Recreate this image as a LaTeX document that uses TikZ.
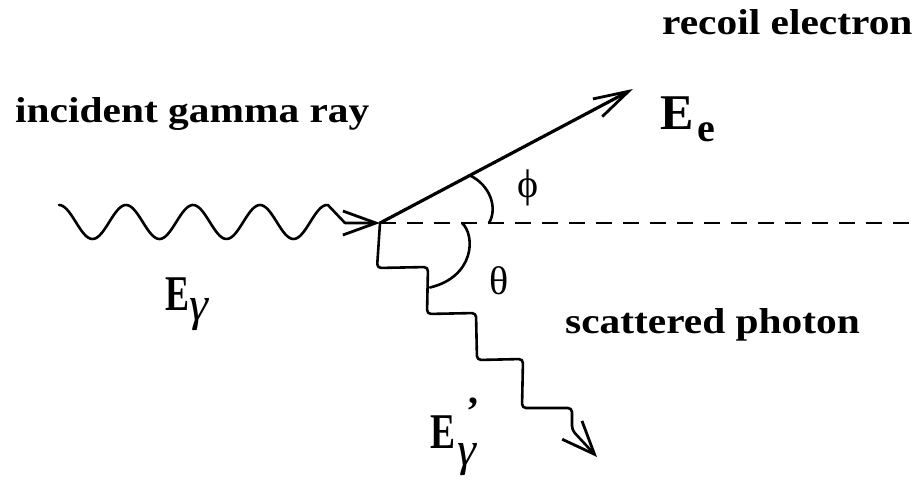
\documentclass[tikz,border=0pt]{standalone}
\usepackage{fontspec}
\usepackage{graphicx}
\usetikzlibrary{arrows.meta}
\newfontfamily\lblfont[FakeStretch=1.15]{Liberation Serif}
\newfontfamily\serfont{Liberation Serif}
\tikzset{
  lbl/.style={inner sep=0pt, anchor=base west, font=\lblfont\bfseries\fontsize{36}{42}\selectfont},
  bigE/.style={inner sep=0pt, anchor=base west, font=\serfont\bfseries\fontsize{50}{60}\selectfont},
  gsub/.style={inner sep=0pt, anchor=base west, font=\serfont\itshape\fontsize{48}{56}\selectfont},
  greek/.style={inner sep=0pt, anchor=center, font=\serfont\fontsize{40}{48}\selectfont},
  wave/.style={line width=2.6pt, line join=round, line cap=round},
  elec/.style={line width=3.2pt, line cap=round},
  angarc/.style={line width=2.6pt, line cap=round},
  axis/.style={line width=1.8pt, dash pattern=on 16pt off 11pt},
}
\begin{document}
\begin{tikzpicture}[x=1pt,y=-1pt]
\useasboundingbox (0,0) rectangle (917,481);
% key points
\coordinate (V) at (380,223);
\coordinate (W1) at (345,223);
\coordinate (Etip) at (633,89);
\coordinate (Dend) at (917,223);
\coordinate (Ptip) at (597,457);
% incident gamma ray (wavy)
\draw[wave, -{Straight Barb[length=33pt,width=24pt,line width=2.8pt]}]
  plot[domain=59:328, samples=140] (\x, {222-17*cos(5.3731*(\x-59))}) -- (W1) -- (V);
% dashed axis
\draw[axis] (V) -- (Dend);
% recoil electron
\draw[elec, -{Straight Barb[length=35pt,width=20pt,line width=2.8pt]}] (V) -- (Etip);
% scattered photon
\draw[wave, rounded corners=4pt, -{Straight Barb[length=33pt,width=27pt,line width=2.8pt]}]
  (V) -- (377,268) -- (428,267) -- (427,314) -- (476,313) -- (477,360) -- (523,359)
  -- (522,408) -- (572,408) -- (572,430) -- (Ptip);
% angle arcs
\coordinate (P1) at (470,175.5);
\coordinate (P2) at (489,223);
\draw[angarc] (P1) .. controls (490,185) and (498,208) .. (P2);
\coordinate (T1) at (462,223);
\coordinate (T2) at (430,287.5);
\draw[angarc] (T1) .. controls (476,236) and (474,277) .. (T2);
% labels
\node[lbl] (inc) at (15,123) {incident gamma ray};
\node[lbl] (rec) at (662,35) {recoil electron};
\node[lbl] (sca) at (565,333) {scattered photon};
\node[bigE] (Ee) at (660,130) {E\kern4pt\raisebox{-12pt}{\fontsize{40}{48}\selectfont e}};
\node[bigE] (Eg) at (165,310) {\scalebox{0.72}[1]{E}};
\node[gsub] (Egs) at (189,320) {γ};
\node[bigE] (Egp) at (430,448) {\scalebox{0.75}[1]{E}};
\node[gsub] (Egps) at (457,465) {γ};
\node[inner sep=0pt, anchor=base west, font=\serfont\bfseries\fontsize{40}{48}\selectfont] (prime) at (466,424) {’};
\node[greek] (phi) at (528,188) {ϕ};
\node[greek] (theta) at (499,281) {θ};
\end{tikzpicture}
\end{document}
